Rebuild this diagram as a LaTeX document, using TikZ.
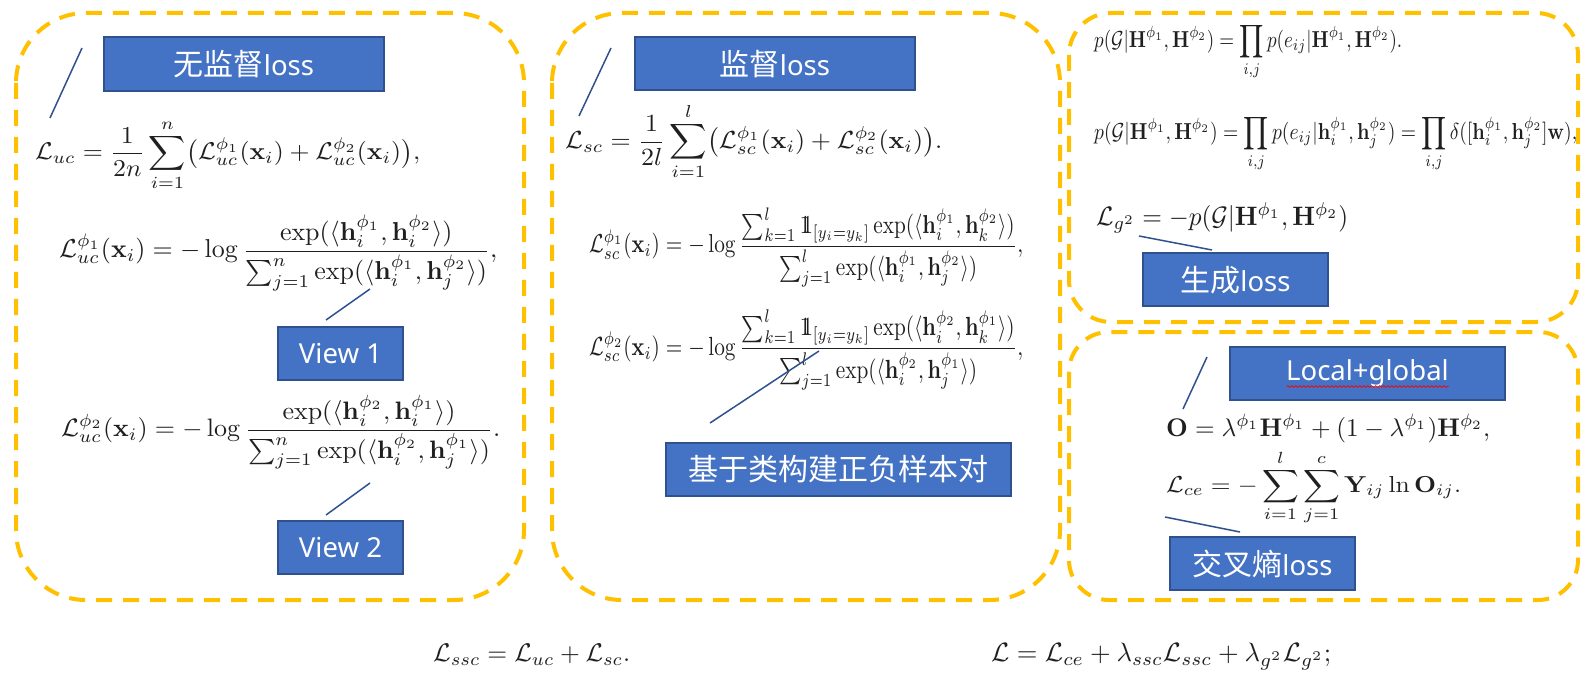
\documentclass[tikz,border=0pt]{standalone}
\usepackage{amsmath,amssymb}
\usepackage{graphicx}
\usepackage[no-math]{fontspec}
\newfontfamily\cjk{Noto Sans CJK SC}
\newfontfamily\lat{Noto Sans}
\usetikzlibrary{decorations.pathmorphing}
\definecolor{dashy}{HTML}{FFC000}
\definecolor{bfill}{HTML}{4472C4}
\definecolor{bline}{HTML}{2F528F}
\newcommand{\indic}{\mathrm{1}\mkern-7mu\mathrm{1}}
\newcommand{\hb}{\mathbf{h}}
\newcommand{\Hb}{\mathbf{H}}
\newcommand{\zh}[1]{{\cjk\fontsize{30}{34}\selectfont #1}}
\begin{document}
\begin{tikzpicture}[x=1pt,y=-1pt,
  region/.style={draw=dashy, line width=4pt, dash pattern=on 16pt off 11pt, rounded corners=#1},
  lbl/.style={draw=bline, fill=bfill, line width=2pt, text=white, inner sep=0pt, minimum height=53pt, font=\lat\fontsize{27.5}{32}\selectfont},
  eq/.style={inner sep=0pt, anchor=west, text=black!88},
  link/.style={draw=bline, line width=1.5pt}]
\useasboundingbox (0,0) rectangle (1590,676);
\fill[white] (0,0) rectangle (1590,676);

% dashed regions
\draw[region=70] (16,13) rectangle (524,600);
\draw[region=70] (552,13) rectangle (1060,600);
\draw[region=42] (1069,13) rectangle (1578,322);
\draw[region=40] (1069,332) rectangle (1578,600);

% ---------- region 1 ----------
\node[lbl, minimum width=280pt, minimum height=54pt] (tuc) at (244,64.5) {\zh{无监督}loss};
\node[eq] (fuc) at (35,155.5) {\resizebox*{385pt}{71pt}{$\displaystyle \mathcal{L}_{uc}=\frac{1}{2n}\sum_{i=1}^{n}\bigl(\mathcal{L}_{uc}^{\phi_1}(\mathbf{x}_i)+\mathcal{L}_{uc}^{\phi_2}(\mathbf{x}_i)\bigr),$}};
\node[eq] (fuc1) at (59,253) {\resizebox*{438pt}{76pt}{$\displaystyle \mathcal{L}_{uc}^{\phi_1}(\mathbf{x}_i)=-\log\frac{\exp(\langle\hb_i^{\phi_1},\hb_i^{\phi_2}\rangle)}{\sum_{j=1}^{n}\exp(\langle\hb_i^{\phi_1},\hb_j^{\phi_2}\rangle)},$}};
\node[eq] (fuc2) at (61,432) {\resizebox*{439pt}{74pt}{$\displaystyle \mathcal{L}_{uc}^{\phi_2}(\mathbf{x}_i)=-\log\frac{\exp(\langle\hb_i^{\phi_2},\hb_i^{\phi_1}\rangle)}{\sum_{j=1}^{n}\exp(\langle\hb_i^{\phi_2},\hb_j^{\phi_1}\rangle)}.$}};
\node[lbl, minimum width=125pt] (v1) at (340.5,353.5) {View 1};
\node[lbl, minimum width=125pt] (v2) at (340.5,547.5) {View 2};
\coordinate (a1) at (50,118); \coordinate (b1) at (82,48);
\draw[link] (a1) -- (b1);
\coordinate (a2) at (370,289); \coordinate (b2) at (326,320);
\draw[link] (a2) -- (b2);
\coordinate (a3) at (370,483); \coordinate (b3) at (326,515);
\draw[link] (a3) -- (b3);

% ---------- region 2 ----------
\node[lbl, minimum width=280pt] (tsc) at (775,64) {\zh{监督}loss};
\node[eq] (fsc) at (565,141.5) {\resizebox*{377pt}{77pt}{$\displaystyle \mathcal{L}_{sc}=\frac{1}{2l}\sum_{i=1}^{l}\bigl(\mathcal{L}_{sc}^{\phi_1}(\mathbf{x}_i)+\mathcal{L}_{sc}^{\phi_2}(\mathbf{x}_i)\bigr).$}};
\node[eq] (fsc1) at (589,247.5) {\resizebox*{434pt}{79pt}{$\displaystyle \mathcal{L}_{sc}^{\phi_1}(\mathbf{x}_i)=-\log\frac{\sum_{k=1}^{l}\indic_{[y_i=y_k]}\exp(\langle\hb_i^{\phi_1},\hb_k^{\phi_2}\rangle)}{\sum_{j=1}^{l}\exp(\langle\hb_i^{\phi_1},\hb_j^{\phi_2}\rangle)},$}};
\node[eq] (fsc2) at (589,350) {\resizebox*{434pt}{80pt}{$\displaystyle \mathcal{L}_{sc}^{\phi_2}(\mathbf{x}_i)=-\log\frac{\sum_{k=1}^{l}\indic_{[y_i=y_k]}\exp(\langle\hb_i^{\phi_2},\hb_k^{\phi_1}\rangle)}{\sum_{j=1}^{l}\exp(\langle\hb_i^{\phi_2},\hb_j^{\phi_1}\rangle)},$}};
\node[lbl, minimum width=345pt] (tpos) at (838.5,469) {\zh{基于类构建正负样本对}};
\coordinate (a4) at (579,116); \coordinate (b4) at (611,48);
\draw[link] (a4) -- (b4);
\coordinate (a5) at (710,423); \coordinate (b5) at (819,351);
\draw[link] (a5) -- (b5);

% ---------- region 3 ----------
\node[eq] (fp1) at (1094,51.5) {\resizebox*{308pt}{57pt}{$\displaystyle p(\mathcal{G}|\Hb^{\phi_1},\Hb^{\phi_2})=\prod_{i,j}p(e_{ij}|\Hb^{\phi_1},\Hb^{\phi_2}).$}};
\node[eq] (fp2) at (1094,143.5) {\resizebox*{483pt}{57pt}{$\displaystyle p(\mathcal{G}|\Hb^{\phi_1},\Hb^{\phi_2})=\prod_{i,j}p(e_{ij}|\hb_i^{\phi_1},\hb_j^{\phi_2})=\prod_{i,j}\delta([\hb_i^{\phi_1},\hb_j^{\phi_2}]\mathbf{w}),$}};
\node[eq] (fg) at (1096,218) {\resizebox*{252pt}{31pt}{$\mathcal{L}_{g^2}=-p(\mathcal{G}|\Hb^{\phi_1},\Hb^{\phi_2})$}};
\node[lbl, minimum width=185pt] (tgen) at (1235.5,280) {\zh{生成}loss};
\coordinate (a6) at (1139,236); \coordinate (b6) at (1212,250);
\draw[link] (a6) -- (b6);

% ---------- region 4 ----------
\node[lbl, minimum width=275pt] (tlg) at (1367.5,373.5) {Local+global};
\draw[red, line width=0.7pt, decorate, decoration={snake, amplitude=0.9pt, segment length=4pt}]
  ([shift={(-81,13)}]tlg.center) -- ([shift={(81,13)}]tlg.center);
\node[eq] (fo) at (1166,428.5) {\resizebox*{324pt}{28pt}{$\mathbf{O}=\lambda^{\phi_1}\Hb^{\phi_1}+(1-\lambda^{\phi_1})\Hb^{\phi_2},$}};
\node[eq] (fce) at (1166,487.5) {\resizebox*{295pt}{75pt}{$\displaystyle \mathcal{L}_{ce}=-\sum_{i=1}^{l}\sum_{j=1}^{c}\mathbf{Y}_{ij}\ln\mathbf{O}_{ij}.$}};
\node[lbl, minimum width=185pt] (tce) at (1262.5,563.5) {\zh{交叉熵}loss};
\coordinate (a7) at (1183,409); \coordinate (b7) at (1207,357);
\draw[link] (a7) -- (b7);
\coordinate (a8) at (1165,517); \coordinate (b8) at (1240,532);
\draw[link] (a8) -- (b8);

% ---------- bottom ----------
\node[eq] (fssc) at (433,655) {\resizebox{197pt}{!}{$\mathcal{L}_{ssc}=\mathcal{L}_{uc}+\mathcal{L}_{sc}.$}};
\node[eq] (fall) at (991,656.5) {\resizebox{340pt}{!}{$\mathcal{L}=\mathcal{L}_{ce}+\lambda_{ssc}\mathcal{L}_{ssc}+\lambda_{g^2}\mathcal{L}_{g^2};$}};
\end{tikzpicture}
\end{document}
